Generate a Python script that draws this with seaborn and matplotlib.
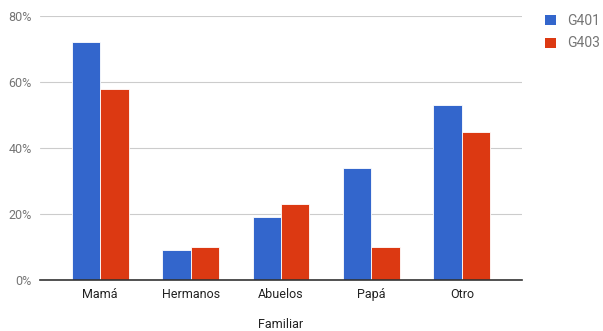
import matplotlib
matplotlib.use("Agg")
import matplotlib.pyplot as plt
import seaborn as sns
import pandas as pd
from matplotlib.patches import Patch
from matplotlib.ticker import FuncFormatter

categories = ["Mamá", "Hermanos", "Abuelos", "Papá", "Otro"]
g401 = [72, 9, 19, 34, 53]
g403 = [58, 10, 23, 10, 45]
series = ["G401", "G403"]
colors = ["#3366cc", "#dc3912"]

df = pd.DataFrame({
    "Familiar": categories * 2,
    "valor": g401 + g403,
    "grupo": [series[0]] * len(categories) + [series[1]] * len(categories),
})

sns.set_theme(style="white")
plt.rcParams["font.family"] = ["Roboto", "DejaVu Sans"]

fig = plt.figure(figsize=(6.03, 3.31), dpi=100)
ax = fig.add_axes([40 / 603, 1 - 280 / 331, 482 / 603, 264 / 331])

sns.barplot(data=df, x="Familiar", y="valor", hue="grupo", palette=colors,
            saturation=1, width=0.63, edgecolor="white", linewidth=0.6,
            ax=ax, legend=False)

ax.set_xlim(-0.665, 4.665)
ax.set_ylim(0, 80)
ax.set_yticks([0, 20, 40, 60, 80])
ax.yaxis.set_major_formatter(FuncFormatter(lambda v, p: f"{int(v)}%"))
ax.grid(axis="y", color="#cccccc", linewidth=0.8)
ax.set_axisbelow(True)
for s in ["top", "right", "left"]:
    ax.spines[s].set_visible(False)
ax.spines["bottom"].set_color("#333333")
ax.spines["bottom"].set_linewidth(1.2)
ax.spines["bottom"].set_zorder(5)

ax.tick_params(axis="y", length=0, pad=6, labelsize=9, labelcolor="#757575")
ax.tick_params(axis="x", length=0, pad=6, labelsize=9, labelcolor="#222222")
ax.set_ylabel("")
ax.set_xlabel("Familiar", fontsize=9, color="#222222", labelpad=12)

handles = [Patch(facecolor=c, edgecolor="none") for c in colors]
fig.legend(handles, series, loc="upper left", bbox_to_anchor=(534 / 603, 1 - 3 / 331),
           frameon=False, fontsize=10, labelcolor="#757575",
           handlelength=0.75, handleheight=0.75, handletextpad=0.8,
           labelspacing=0.6, borderpad=0.3)

fig.savefig("out.png", dpi=100)
